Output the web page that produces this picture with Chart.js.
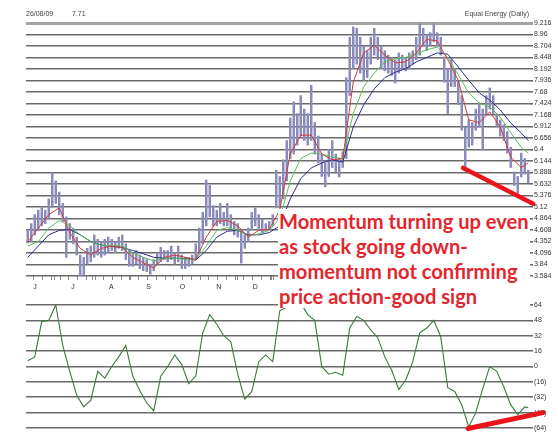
<!DOCTYPE html>
<html lang="en">
<head>
  <meta charset="UTF-8" />
  <title>Equal Energy (Daily)</title>
  <script src="https://cdn.jsdelivr.net/npm/chart.js"></script>
  <style>
    body {
      margin: 0;
      background: #fff;
      width: 558px;
      height: 441px;
      position: relative;
      overflow: hidden;
      font-family: 'Liberation Sans', Arial, sans-serif;
    }
    canvas { position: absolute; left: 0; }
    #priceChart { top: 0; z-index: 1; }
    #momChart { top: 290px; z-index: 1; }
    .hdr {
      position: absolute;
      top: 10px;
      font-size: 7px;
      color: #444;
      z-index: 3;
    }
    #note {
      position: absolute;
      left: 278px;
      top: 209px;
      width: 251px;
      height: 99px;
      background: #fff;
      z-index: 2;
      color: #e3262d;
      font-family: 'Lato', 'Open Sans', sans-serif;
      font-weight: 700;
      font-size: 21px;
      line-height: 25px;
      padding-left: 1px;
      white-space: nowrap;
    }
  </style>
</head>
<body>

  <div class="hdr" style="left:26px;">26/08/09</div>
  <div class="hdr" style="left:72px;">7.71</div>
  <div class="hdr" style="right:29px;">Equal Energy (Daily)</div>

  <canvas id="priceChart" width="558" height="300"></canvas>
  <canvas id="momChart" width="558" height="151"></canvas>

  <div id="note">
    <div><span id="firstLine">Momentum turning up even</span></div>
    <div>as stock going down-</div>
    <div>momentum not confirming</div>
    <div>price action-good sign</div>
  </div>

  <script>
    // price bars, one per index (low / high)
    const barLow = [
      4.32, 4.35, 4.5, 4.6, 4.7, 4.75, 4.85, 5.1, 5.2, 4.95,
      4.8, 4.0, 4.4, 4.3, 4.05, 3.56, 3.6, 3.85, 3.9, 4.0,
      4.05, 4.0, 4.05, 4.1, 4.15, 4.1, 4.2, 4.15, 3.95, 3.8,
      3.8, 3.85, 3.75, 3.7, 3.68, 3.62, 3.7, 3.85, 3.9, 3.95,
      3.9, 3.95, 3.85, 3.9, 3.75, 3.75, 3.8, 3.85, 3.95, 4.1,
      4.3, 4.7, 4.9, 4.7, 4.7, 4.75, 4.7, 4.7, 4.65, 4.5,
      4.45, 3.87, 4.2, 4.35, 4.6, 4.7, 4.6, 4.55, 4.6, 4.6,
      4.7, 5.1, 5.1, 5.3, 5.7, 6.2, 6.3, 6.5, 6.7, 6.6,
      6.5, 6.6, 6.3, 6.1, 5.8, 5.57, 5.8, 6.0, 5.9, 5.79,
      6.0, 6.2, 7.6, 8.2, 8.3, 8.1, 7.94, 8.0, 8.3, 8.5,
      8.4, 8.2, 8.15, 8.1, 8.05, 7.88, 8.1, 8.2, 8.15, 8.2,
      8.3, 8.4, 8.5, 8.7, 8.6, 8.7, 8.8, 8.7, 8.5, 7.9,
      7.2, 7.8, 7.8, 7.4, 6.83, 5.99, 6.45, 6.5, 6.83, 6.9,
      6.39, 7.2, 7.3, 7.2, 6.9, 6.7, 6.6, 6.32, 6.0, 5.6,
      5.43, 5.79, 5.85, 5.66
    ];
    const barHigh = [
      4.62, 4.75, 4.95, 5.05, 5.1, 5.05, 5.3, 5.88, 5.7, 5.45,
      5.2, 4.9, 4.75, 4.65, 4.45, 4.05, 4.0, 4.2, 4.25, 4.5,
      4.4, 4.35, 4.4, 4.45, 4.4, 4.35, 4.45, 4.5, 4.3, 4.15,
      4.1, 4.15, 4.05, 4.0, 3.95, 3.85, 3.95, 4.1, 4.22, 4.15,
      4.15, 4.25, 4.1, 4.25, 4.05, 4.0, 4.0, 4.05, 4.3, 4.65,
      5.0, 5.72, 5.6, 5.15, 5.05, 5.2, 5.0, 5.2, 4.95, 4.8,
      4.75, 4.6, 4.5, 4.65, 5.0, 5.1, 4.95, 4.85, 4.75, 4.8,
      4.95, 5.94, 5.8, 6.17, 6.6, 7.1, 7.46, 7.2, 7.6, 7.3,
      7.2, 7.83, 7.0, 6.7, 6.3, 6.1, 6.4, 6.6, 6.3, 6.2,
      6.35, 8.0, 8.9, 9.13, 9.1, 8.9, 8.7, 8.6, 8.9, 9.1,
      8.9, 8.7, 8.6, 8.5, 8.45, 8.4, 8.55, 8.5, 8.45, 8.55,
      8.6, 8.9, 9.2, 9.1, 8.95, 9.0, 9.2, 9.0, 8.9, 8.46,
      8.2, 8.4, 8.2, 7.94, 7.6, 6.9, 7.06, 7.0, 7.3, 7.44,
      7.3, 7.6, 7.77, 7.6, 7.2, 7.06, 6.95, 6.8, 6.45, 5.9,
      5.8, 6.32, 6.2, 5.94
    ];

    // moving averages, sampled every third bar
    const maIdx = [0, 3, 6, 9, 12, 15, 18, 21, 24, 27, 30, 33, 36, 39, 42, 45, 48,
      51, 54, 57, 60, 63, 66, 69, 72, 75, 78, 81, 84, 87, 90, 93, 96, 99, 102,
      105, 108, 111, 114, 117, 120, 123, 126, 129, 132, 135, 138, 141, 143];
    const maRed = [4.34, 4.65, 4.95, 5.1, 4.55, 4.2, 4.05, 4.2, 4.25, 4.22, 4.0, 3.88,
      3.76, 4.0, 4.05, 4.0, 3.95, 4.45, 4.8, 4.82, 4.7, 4.45, 4.6, 4.62, 5.05, 6.3,
      6.72, 6.72, 6.3, 6.17, 6.2, 7.9, 8.55, 8.72, 8.5, 8.33, 8.35, 8.55, 8.85, 8.82,
      8.4, 7.94, 7.06, 7.0, 7.24, 6.9, 6.23, 6.0, 6.1];
    const maGreen = [4.25, 4.35, 4.65, 4.82, 4.7, 4.5, 4.35, 4.27, 4.26, 4.25, 4.1, 4.0,
      3.92, 3.98, 3.98, 3.96, 3.95, 4.25, 4.6, 4.66, 4.6, 4.48, 4.52, 4.6, 4.87, 5.7,
      6.2, 6.32, 6.3, 6.23, 6.2, 7.2, 7.8, 8.1, 8.35, 8.42, 8.45, 8.52, 8.62, 8.68,
      8.45, 8.06, 7.66, 7.43, 7.35, 7.12, 6.77, 6.45, 6.32];
    const maBlue = [4.0, 4.25, 4.5, 4.6, 4.62, 4.5, 4.35, 4.27, 4.24, 4.22, 4.15, 4.08,
      4.0, 3.98, 3.98, 3.97, 3.94, 4.15, 4.45, 4.58, 4.6, 4.5, 4.5, 4.55, 4.7, 5.3,
      5.75, 5.99, 6.1, 6.17, 6.12, 6.9, 7.4, 7.75, 8.0, 8.12, 8.2, 8.35, 8.45, 8.55,
      8.52, 8.24, 7.94, 7.66, 7.5, 7.28, 6.99, 6.77, 6.6];

    // momentum, sampled every second bar
    const momIdx = [0, 2, 4, 6, 8, 10, 12, 14, 16, 18, 20, 22, 24, 26, 28, 30, 32, 34,
      36, 38, 40, 42, 44, 46, 48, 50, 52, 54, 56, 58, 60, 62, 64, 66, 68, 70, 72,
      74, 76, 78, 80, 82, 84, 86, 88, 90, 92, 94, 96, 98, 100, 102, 104, 106, 108,
      110, 112, 114, 116, 118, 120, 122, 124, 126, 128, 130, 132, 134, 136, 138,
      140, 142, 143];
    const momVal = [6, 10, 47, 48, 64, 22, -5, -30, -42, -35, -5, -12, 0, 10, 22, -10,
      -25, -38, -46, -10, 0, 12, 2, -18, -10, 35, 54, 44, 32, 26, -8, -34, -26, 5,
      12, 5, 58, 62, 68, 66, 54, 48, 0, -8, -6, -9, 40, 52, 48, 38, 30, 10, -4, -24,
      -14, 5, 35, 40, 48, 31, -22, -26, -40, -63, -48, -23, 0, -5, -21, -40, -50,
      -42, -43];

    // hand-drawn trend lines
    const priceTrend = [{ x: 124.4, y: 5.99 }, { x: 144.4, y: 5.19 }];
    const momTrend = [{ x: 125.8, y: -64.5 }, { x: 147.2, y: -48 }];

    const priceTicks = [9.216, 8.96, 8.704, 8.448, 8.192, 7.936, 7.68, 7.424, 7.168,
      6.912, 6.656, 6.4, 6.144, 5.888, 5.632, 5.376, 5.12, 4.864, 4.608, 4.352,
      4.096, 3.84, 3.584];
    const momTicks = [64, 48, 32, 16, 0, -16, -32, -48, -64];
    const monthPos = [2.1, 12.9, 23.9, 34.5, 44.2, 54.6, 65.0, 75.5, 86.0, 96.5,
      107.0, 117.5, 128.0, 138.5];
    const monthLabels = ['J', 'J', 'A', 'S', 'O', 'N', 'D', 'J', 'F', 'M', 'A', 'M', 'J', 'J'];

    const tickFont = { family: "'Liberation Sans', Arial, sans-serif", size: 7 };
    const gridColor = ctx => (ctx.tick && ctx.tick.value === 9.216) ? '#a4a4a4' : '#6a6a6a';
    const gridWidth = ctx => (ctx.tick && ctx.tick.value === 9.216) ? 3 : 1.6;

    const weekTicks = [];
    for (let v = 0.5; v < 143.5; v += 2.5) weekTicks.push(v);

    const xy = (xs, ys) => xs.map((x, i) => ({ x: x, y: ys[i] }));

    new Chart(document.getElementById('priceChart'), {
      type: 'bar',
      data: {
        datasets: [
          {
            type: 'line', data: priceTrend, borderColor: '#e8161b', borderWidth: 4.5,
            pointRadius: 0, clip: false, borderCapStyle: 'round'
          },
          { type: 'line', data: xy(maIdx, maRed), borderColor: '#d23a3a', borderWidth: 1, pointRadius: 0 },
          { type: 'line', data: xy(maIdx, maGreen), borderColor: '#58c058', borderWidth: 1, pointRadius: 0 },
          { type: 'line', data: xy(maIdx, maBlue), borderColor: '#2c2c8c', borderWidth: 1, pointRadius: 0 },
          {
            type: 'bar',
            data: barLow.map((lo, i) => ({ x: i, y: [lo, barHigh[i]] })),
            backgroundColor: '#8a8abb',
            barThickness: 1.8
          }
        ]
      },
      options: {
        animation: false,
        responsive: false,
        devicePixelRatio: 1,
        layout: { padding: { left: 26, top: 23, right: 0, bottom: 0 } },
        plugins: { legend: { display: false }, tooltip: { enabled: false } },
        scales: {
          x: {
            type: 'linear', min: -0.5, max: 143.5, offset: false,
            afterBuildTicks: s => { s.ticks = monthPos.concat(weekTicks).map(v => ({ value: v })); },
            afterFit: s => { s.height = 24; },
            grid: { drawOnChartArea: false, tickLength: 4, color: '#8a8a8a' },
            border: { display: false },
            ticks: {
              autoSkip: false, maxRotation: 0, padding: 3, font: tickFont, color: '#333',
              callback: v => { const k = monthPos.indexOf(v); return k >= 0 ? monthLabels[k] : ''; }
            }
          },
          y: {
            position: 'right', min: 3.584, max: 9.216,
            afterBuildTicks: s => { s.ticks = priceTicks.map(v => ({ value: v })); },
            afterFit: s => { s.width = 28; },
            grid: { color: gridColor, lineWidth: gridWidth, tickLength: 3 },
            border: { display: false },
            ticks: { padding: 1, font: tickFont, color: '#333', callback: v => String(v) }
          }
        }
      }
    });

    new Chart(document.getElementById('momChart'), {
      type: 'line',
      data: {
        datasets: [
          {
            data: momTrend, borderColor: '#e8161b', borderWidth: 5,
            pointRadius: 0, clip: false, borderCapStyle: 'round'
          },
          { data: xy(momIdx, momVal), borderColor: '#3a7a3a', borderWidth: 1.1, pointRadius: 0 }
        ]
      },
      options: {
        animation: false,
        responsive: false,
        devicePixelRatio: 1,
        layout: { padding: { left: 26, top: 15, right: 0, bottom: 13 } },
        plugins: { legend: { display: false }, tooltip: { enabled: false } },
        scales: {
          x: { type: 'linear', min: -0.5, max: 143.5, display: false },
          y: {
            position: 'right', min: -64, max: 64,
            afterBuildTicks: s => { s.ticks = momTicks.map(v => ({ value: v })); },
            afterFit: s => { s.width = 28; },
            grid: { color: '#6a6a6a', lineWidth: 1.6, tickLength: 3 },
            border: { display: false },
            ticks: {
              padding: 1, font: tickFont, color: '#333',
              callback: v => v < 0 ? '(' + (-v) + ')' : String(v)
            }
          }
        }
      }
    });

    // fit the annotation so its first line spans the same width as the original
    const note = document.getElementById('note');
    const w = document.getElementById('firstLine').offsetWidth;
    if (w > 0) note.style.fontSize = (21 * 250 / w).toFixed(2) + 'px';
  </script>
</body>
</html>
